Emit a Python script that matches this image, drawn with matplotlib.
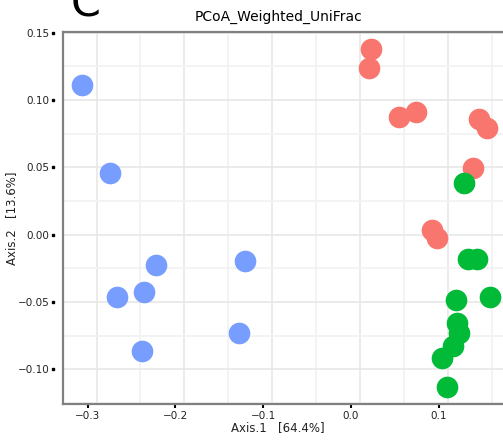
import numpy as np
import matplotlib
matplotlib.use("Agg")
import matplotlib.pyplot as plt

# PCoA coordinates (Axis.1, Axis.2) per group
blue_x = [-0.306, -0.2745, -0.2224, -0.1207, -0.2669, -0.2358, -0.2377, -0.1279]
blue_y = [0.1108, 0.0459, -0.0222, -0.0198, -0.0462, -0.0425, -0.0862, -0.0726]

red_x = [0.0224, 0.0205, 0.0547, 0.0737, 0.1461, 0.1552, 0.1386, 0.0919, 0.0976]
red_y = [0.1378, 0.1241, 0.0871, 0.0908, 0.0859, 0.0793, 0.0496, 0.0032, -0.0022]

green_x = [0.1291, 0.1336, 0.1439, 0.1192, 0.1583, 0.1204, 0.1234, 0.1166, 0.1040, 0.1090]
green_y = [0.0382, -0.0181, -0.0181, -0.0487, -0.0462, -0.0659, -0.0726, -0.0827, -0.0919, -0.1133]

x_ticks = [-0.3, -0.2, -0.1, 0.0, 0.1]
y_ticks = [-0.10, -0.05, 0.00, 0.05, 0.10, 0.15]
x_tick_labels = ["\u22120.3", "\u22120.2", "\u22120.1", "0.0", "0.1"]
y_tick_labels = ["\u22120.10", "\u22120.05", "0.00", "0.05", "0.10", "0.15"]

title = "PCoA_Weighted_UniFrac"
xlabel = "Axis.1   [64.4%]"
ylabel = "Axis.2   [13.6%]"

W, H = 503, 440
fig = plt.figure(figsize=(W / 100, H / 100), dpi=100)

x0, x1 = -0.3286, 0.176
y0, y1 = -0.1259, 0.1507
left, right, top, bottom = 62.5, 505.5, 31.7, 404.3
ax = fig.add_axes([left / W, 1 - bottom / H, (right - left) / W, (bottom - top) / H])
ax.set_xlim(x0, x1)
ax.set_ylim(y0, y1)

# background grid (vertical lines sit slightly right of the ticks)
grid_shift = 0.0102
for v in np.arange(-0.35, 0.2, 0.05):
    major = abs(round(v / 0.1) * 0.1 - v) < 1e-6
    ax.axvline(v + grid_shift, color="#e6e6e6" if major else "#f3f3f3",
               lw=1.1 if major else 1.4, zorder=0)
for v in np.arange(-0.125, 0.16, 0.025):
    major = abs(round(v / 0.05) * 0.05 - v) < 1e-6
    ax.axhline(v, color="#e6e6e6" if major else "#f3f3f3",
               lw=1.1 if major else 1.4, zorder=0)

ms = 243
ax.scatter(blue_x, blue_y, s=ms, color="#779DFF", lw=0, zorder=3)
ax.scatter(red_x, red_y, s=ms, color="#F8766D", lw=0, zorder=3)
ax.scatter(green_x, green_y, s=ms, color="#00BA38", lw=0, zorder=3)

for side in ["left", "bottom", "top"]:
    ax.spines[side].set_color("#808080")
    ax.spines[side].set_linewidth(1.6)
ax.spines["right"].set_visible(False)

ax.set_xticks(x_ticks)
ax.set_xticklabels(x_tick_labels)
ax.tick_params(axis="x", direction="out", length=2.6, width=1.5, color="black",
               pad=2, labelsize=7.5, labelcolor="#222222")

ax.set_yticks(y_ticks)
ax.set_yticklabels(y_tick_labels)
ax.tick_params(axis="y", length=0, pad=9.5, labelsize=7.5, labelcolor="#222222")
# small square tick marks detached from the left spine
ax.plot([-10 / (right - left)] * len(y_ticks), y_ticks, "s", ms=1.7, color="black",
        transform=ax.get_yaxis_transform(), clip_on=False)

fig.text(278 / W, 1 - 17 / H, title, ha="center", va="center", fontsize=10)
fig.text(278 / W, 1 - 428 / H, xlabel, ha="center", va="center", fontsize=8.5,
         color="#222222")
fig.text(11.5 / W, 1 - 218 / H, ylabel, ha="center", va="center", rotation=90,
         fontsize=8.5, color="#222222")
fig.text(71 / W, 1 - 16.5 / H, "C", ha="left", va="baseline", fontsize=31)

fig.savefig("out.png", dpi=100)
